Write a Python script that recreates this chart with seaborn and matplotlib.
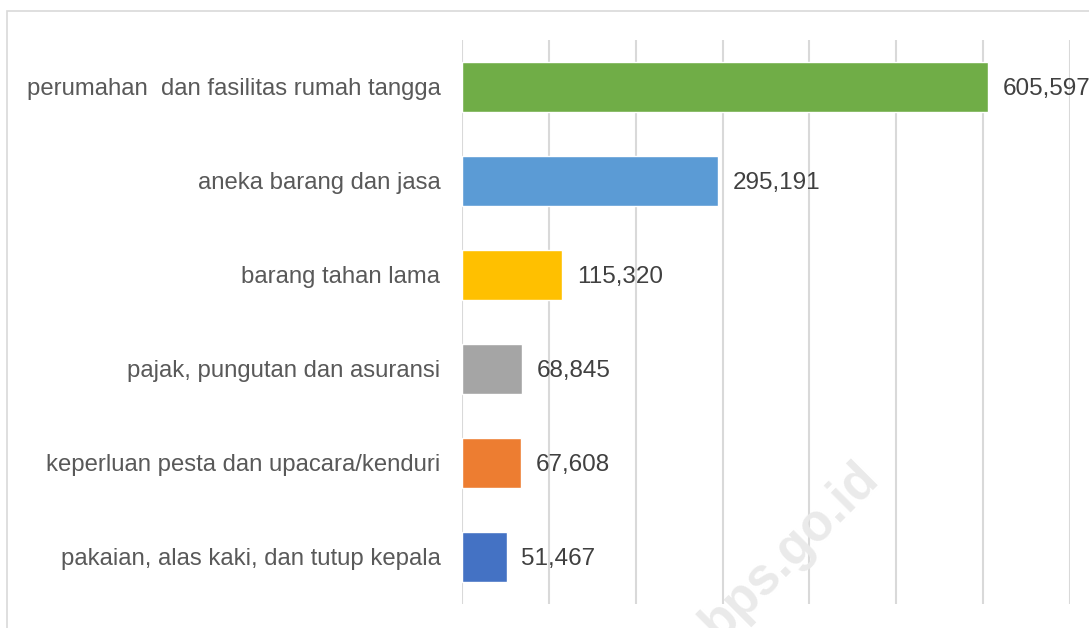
import matplotlib
matplotlib.use("Agg")
import matplotlib.pyplot as plt
import pandas as pd
import seaborn as sns

# data
categories = [
    "perumahan  dan fasilitas rumah tangga",
    "aneka barang dan jasa",
    "barang tahan lama",
    "pajak, pungutan dan asuransi",
    "keperluan pesta dan upacara/kenduri",
    "pakaian, alas kaki, dan tutup kepala",
]
values = [605597, 295191, 115320, 68845, 67608, 51467]
colors = ["#70AD47", "#5B9BD5", "#FFC000", "#A5A5A5", "#ED7D31", "#4472C4"]

df = pd.DataFrame({"kategori": categories, "nilai": values})

sns.set_style("white")
plt.rcParams["font.family"] = ["Liberation Sans", "DejaVu Sans"]

fig = plt.figure(figsize=(10.89, 6.28), dpi=100)
ax = fig.add_axes([462 / 1089, 1 - 604 / 628, 608 / 1089, 564 / 628])

sns.barplot(data=df, x="nilai", y="kategori", hue="kategori", palette=colors,
            orient="h", width=0.53, legend=False, ax=ax, saturation=1)

ax.set_xlim(0, 700000)
ax.set_ylim(5.5, -0.5)
ax.set_xticks(range(0, 700001, 100000))
ax.xaxis.grid(True, color="#D9D9D9", linewidth=1.5)
ax.set_axisbelow(True)
ax.tick_params(axis="x", length=0, labelbottom=False)
ax.tick_params(axis="y", length=0, pad=15.5, labelsize=17.2, labelcolor="#595959")
for s in ax.spines.values():
    s.set_visible(False)
ax.set_xlabel("")
ax.set_ylabel("")

for i, v in enumerate(values):
    ax.text(v + 17000, i, f"{v:,}", va="center_baseline", ha="left",
            fontsize=17.5, color="#404040", clip_on=False)

# chart border
fig.patches.append(plt.Rectangle((7 / 1089, -0.1), 1.2, 1 - 11 / 628 + 0.1,
                                 transform=fig.transFigure, fill=False,
                                 edgecolor="#D9D9D9", linewidth=1.2))

# watermark
fig.text(0.808, 0.236, "bps.go.id", rotation=45, rotation_mode="anchor",
         ha="right", va="baseline", fontsize=37, fontweight="bold",
         color="#EAEAEA", zorder=0)

fig.savefig("out.png", dpi=100)
